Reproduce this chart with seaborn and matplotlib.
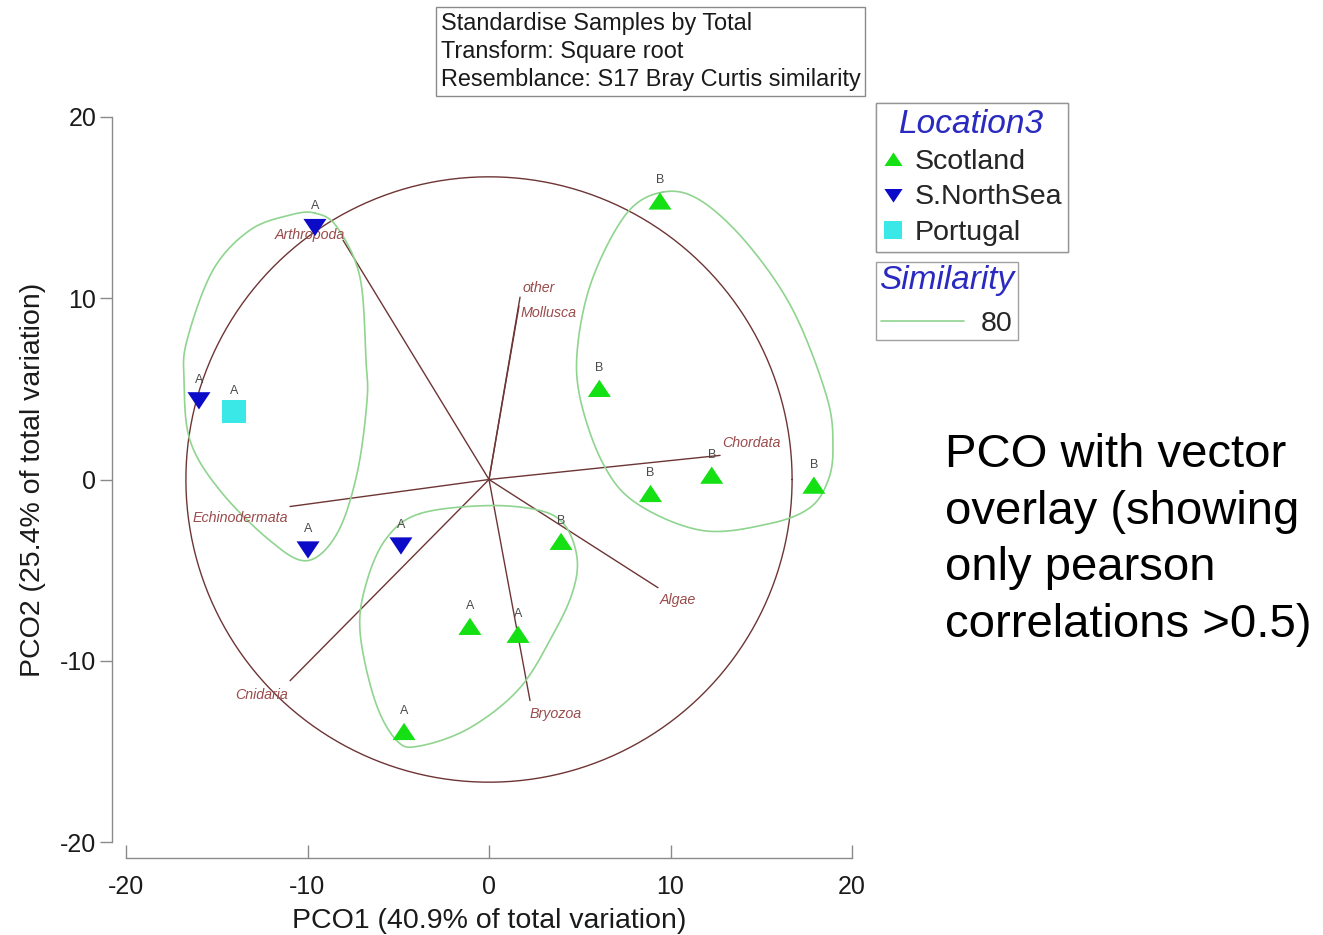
import numpy as np
import pandas as pd
import matplotlib
matplotlib.use("Agg")
import matplotlib.pyplot as plt
from matplotlib.lines import Line2D
import seaborn as sns

# ---- sample scores on the first two principal coordinates ----
pco1 = [9.42, 6.08, 12.27, 8.90, 17.90, 3.97, -1.05, 1.60, -4.68,
        -9.59, -15.98, -9.97, -4.85, -14.05]
pco2 = [15.35, 5.01, 0.22, -0.79, -0.33, -3.43, -8.12, -8.56, -13.92,
        13.92, 4.36, -3.87, -3.65, 3.76]
location = ["Scotland"] * 9 + ["S.NorthSea"] * 4 + ["Portugal"]
cluster = ["B"] * 6 + ["A"] * 3 + ["A"] * 4 + ["A"]
location_order = ["Scotland", "S.NorthSea", "Portugal"]

# ---- Pearson correlation vectors (|r| > 0.5) ----
vector_names = ["Arthropoda", "other", "Mollusca", "Chordata",
                "Algae", "Bryozoa", "Cnidaria", "Echinodermata"]
vector_x = [-8.04, 1.71, 1.65, 12.73, 9.31, 2.26, -10.96, -10.96]
vector_y = [13.20, 10.06, 9.56, 1.33, -5.97, -12.20, -11.10, -1.49]
circle_radius = 16.7

# ---- 80% similarity cluster outlines ----
contour_left_x = [-9.59, -8.37, -7.11, -6.78, -6.72, -7.27, -8.37, -10.03,
                  -12.07, -14.82, -16.47, -16.80, -16.64, -15.21, -13.17, -10.96]
contour_left_y = [14.70, 13.92, 11.16, 6.57, 4.36, 0.33, -2.98, -4.48,
                  -3.37, -0.61, 2.15, 5.47, 7.68, 11.55, 13.76, 14.59]
contour_right_x = [9.59, 11.63, 14.21, 16.75, 18.62, 18.95, 18.68, 17.69,
                   15.48, 11.79, 8.15, 6.28, 5.01, 4.90, 5.73, 7.60]
contour_right_y = [15.86, 15.41, 13.04, 9.34, 4.53, 1.77, -0.06, -1.55,
                   -2.43, -2.82, -1.33, 0.88, 4.53, 7.51, 11.16, 14.70]
contour_low_x = [-3.80, -0.11, 2.81, 4.19, 4.85, 4.63, 3.64, 1.71, -1.05,
                 -3.80, -5.07, -6.28, -7.11, -6.72, -5.62]
contour_low_y = [-1.88, -1.44, -1.71, -2.54, -4.31, -6.13, -8.34, -11.49,
                 -13.70, -14.70, -14.42, -12.21, -8.34, -5.58, -3.20]
similarity_level = "80"

axis_ticks = [-20, -10, 0, 10, 20]

# ---- styling ----
GREEN = "#14e014"
BLUE = "#0c0cc8"
CYAN = "#3ae8e8"
CONTOUR = "#8fd48f"
VEC = "#6e3535"
VEC_LABEL = "#9a4b4b"
TITLE_BLUE = "#2a2ac0"
AXIS_GREY = "#8a8a8a"

TRI_UP = [(-1.0, -0.72), (1.0, -0.72), (0.0, 0.78)]
TRI_DOWN = [(-1.0, 0.72), (1.0, 0.72), (0.0, -0.78)]
markers = {"Scotland": TRI_UP, "S.NorthSea": TRI_DOWN, "Portugal": "s"}
palette = {"Scotland": GREEN, "S.NorthSea": BLUE, "Portugal": CYAN}

# label offsets (points) from each vector tip
label_offsets = {
    "Arthropoda": (1.4, 3.6), "other": (2.0, 6.5), "Mollusca": (1.5, -5.0),
    "Chordata": (1.5, 8.6), "Algae": (1.5, -8.6), "Bryozoa": (0.0, -9.4),
    "Cnidaria": (-1.5, -10.0), "Echinodermata": (-1.5, -8.6),
}


def closed_curve(xs, ys, n=40):
    """Periodic Catmull-Rom spline through the outline points."""
    p = np.column_stack([xs, ys])
    k = len(p)
    out = []
    t = np.linspace(0, 1, n, endpoint=False)[:, None]
    for i in range(k):
        p0, p1, p2, p3 = p[(i - 1) % k], p[i], p[(i + 1) % k], p[(i + 2) % k]
        seg = 0.5 * ((2 * p1) + (-p0 + p2) * t
                     + (2 * p0 - 5 * p1 + 4 * p2 - p3) * t ** 2
                     + (-p0 + 3 * p1 - 3 * p2 + p3) * t ** 3)
        out.append(seg)
    out = np.vstack(out + [p[:1]])
    return out[:, 0], out[:, 1]


sns.set_style("ticks")
plt.rcParams["font.family"] = ["Liberation Sans", "DejaVu Sans"]

W, H = 1323, 935
fig = plt.figure(figsize=(W / 100, H / 100), dpi=100)
ax = fig.add_axes([126 / W, (H - 842) / H, (852 - 126) / W, (842 - 117) / H])
ax.set_xlim(-20, 20)
ax.set_ylim(-20, 20)

df = pd.DataFrame({"PCO1": pco1, "PCO2": pco2,
                   "Location3": location, "cluster": cluster})

# correlation circle and vectors
theta = np.linspace(0, 2 * np.pi, 400)
ax.plot(circle_radius * np.cos(theta), circle_radius * np.sin(theta),
        color=VEC, lw=1.0, zorder=1)
for name, vx, vy in zip(vector_names, vector_x, vector_y):
    ax.plot([0, vx], [0, vy], color=VEC, lw=1.0, zorder=1)
    dx, dy = label_offsets[name]
    ax.annotate(name, (vx, vy), xytext=(dx, dy), textcoords="offset points",
                ha="right" if vx < 0 else "left", va="center",
                fontsize=10.3, style="italic", color=VEC_LABEL, zorder=2)

# similarity outlines
for cx, cy in [(contour_left_x, contour_left_y),
               (contour_right_x, contour_right_y),
               (contour_low_x, contour_low_y)]:
    sx, sy = closed_curve(cx, cy)
    ax.plot(sx, sy, color=CONTOUR, lw=1.2, zorder=1)

# samples
sns.scatterplot(data=df, x="PCO1", y="PCO2", hue="Location3",
                style="Location3", hue_order=location_order,
                style_order=location_order, markers=markers,
                palette=palette, s=275, linewidth=0, legend=False,
                ax=ax, zorder=3)
for x, y, g in zip(pco1, pco2, cluster):
    ax.annotate(g, (x, y), xytext=(0, 15), textcoords="offset points",
                ha="center", va="center", fontsize=9, color="#4a4a4a",
                zorder=4)

# axes styling
ax.set_xticks(axis_ticks)
ax.set_yticks(axis_ticks)
ax.set_xticklabels([str(t) for t in axis_ticks])
ax.set_yticklabels([str(t) for t in axis_ticks])
sns.despine(ax=ax, offset={"left": 10, "bottom": 11.5})
for side in ("left", "bottom"):
    ax.spines[side].set_color(AXIS_GREY)
    ax.spines[side].set_linewidth(1.0)
ax.tick_params(axis="x", direction="in", length=9.5, width=1.0,
               colors=AXIS_GREY, labelcolor="#1a1a1a", labelsize=18, pad=12.5)
ax.tick_params(axis="y", direction="out", length=8.5, width=1.0,
               colors=AXIS_GREY, labelcolor="#1a1a1a", labelsize=18, pad=3)
ax.set_xlabel("PCO1 (40.9% of total variation)", fontsize=20.5,
              color="#1a1a1a", labelpad=6)
ax.set_ylabel("PCO2 (25.4% of total variation)", fontsize=20.5,
              color="#1a1a1a", labelpad=10)

# legends
loc_handles = [
    Line2D([], [], linestyle="none", marker=markers[k], markersize=13,
           markerfacecolor=palette[k], markeredgewidth=0, label=k)
    for k in location_order
]
leg1 = fig.legend(handles=loc_handles, title="Location3", loc="upper left",
                  bbox_to_anchor=(876 / W, 1 - 103 / H), frameon=True,
                  fancybox=False, fontsize=20.5, title_fontsize=24,
                  handlelength=0.8, handletextpad=0.35, labelspacing=0.33,
                  borderpad=0.2, borderaxespad=0)
leg1.get_frame().set_edgecolor(AXIS_GREY)
leg1.get_frame().set_linewidth(1.0)
leg1.get_title().set_color(TITLE_BLUE)
leg1.get_title().set_style("italic")

sim_handles = [Line2D([], [], color=CONTOUR, lw=1.2, label=similarity_level)]
leg2 = fig.legend(handles=sim_handles, title="Similarity", loc="upper left",
                  bbox_to_anchor=(876 / W, 1 - 262 / H), frameon=True,
                  fancybox=False, fontsize=20.5, title_fontsize=24,
                  handlelength=2.9, handletextpad=0.6, borderpad=0.12,
                  borderaxespad=0)
leg2.get_frame().set_edgecolor(AXIS_GREY)
leg2.get_frame().set_linewidth(1.0)
leg2.get_title().set_color(TITLE_BLUE)
leg2.get_title().set_style("italic")
fig.add_artist(leg1)

# analysis settings box
fig.text(441 / W, 1 - 12 / H,
         "Standardise Samples by Total\nTransform: Square root\n"
         "Resemblance: S17 Bray Curtis similarity",
         ha="left", va="top", fontsize=16.9, color="#1a1a1a",
         linespacing=1.28,
         bbox=dict(boxstyle="square,pad=0.2", facecolor="white",
                   edgecolor=AXIS_GREY, linewidth=1.0))

# note
fig.text(945 / W, 1 - 540 / H,
         "PCO with vector\noverlay (showing\nonly pearson\ncorrelations >0.5)",
         ha="left", va="center", fontsize=34, color="black", linespacing=1.37)

fig.savefig("out.png", dpi=100)
